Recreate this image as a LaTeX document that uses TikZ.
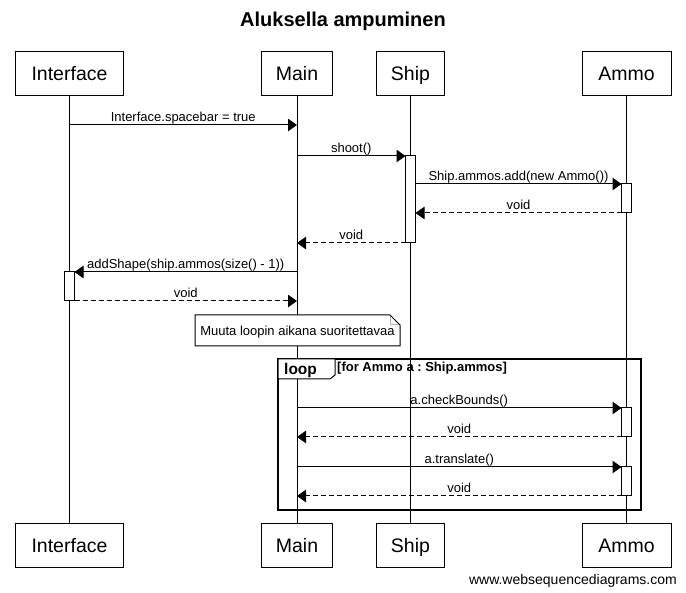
\documentclass[tikz,border=0pt]{standalone}
\usepackage{fontspec}
\setmainfont{Liberation Sans}
\usetikzlibrary{arrows.meta}
\newcommand\fsz[1]{\fontsize{#1pt}{#1pt}\selectfont}
\frenchspacing
\begin{document}
\begin{tikzpicture}[x=1pt,y=-1pt,
  part/.style={draw, line width=1pt, fill=white, minimum height=44pt, inner sep=0pt, outer sep=0pt, font=\fsz{19.5}, text height=14pt, text depth=0pt},
  life/.style={line width=1pt},
  act/.style={draw, line width=1pt, fill=white, minimum width=10pt, inner sep=0pt, outer sep=0pt},
  call/.style={line width=1pt, -{Triangle[length=9pt,width=12.5pt]}},
  ret/.style={call, dash pattern=on 5pt off 3pt},
  lbl/.style={font=\fsz{13}, inner sep=0pt, anchor=base, yshift=3.5pt},
]
\path[fill=white] (0,0) rectangle (686,593);
\useasboundingbox (0,0) rectangle (686,593);

% title
\node[font=\bfseries\fsz{20}, anchor=base, inner sep=0pt] (ttl) at (343,27) {Aluksella ampuminen};

% participants
\node[part, minimum width=108pt] (iT) at (69.5,74) {Interface};
\node[part, minimum width=71pt]  (mT) at (297,74) {Main};
\node[part, minimum width=68pt]  (sT) at (410.5,74) {Ship};
\node[part, minimum width=89pt]  (aT) at (626.5,74) {Ammo};
\node[part, minimum width=108pt] (iB) at (69.5,545.5) {Interface};
\node[part, minimum width=71pt]  (mB) at (297,545.5) {Main};
\node[part, minimum width=68pt]  (sB) at (410.5,545.5) {Ship};
\node[part, minimum width=89pt]  (aB) at (626.5,545.5) {Ammo};

% lifelines
\draw[life] (iT) -- (iB);
\draw[life] (mT) -- (mB);
\draw[life] (sT) -- (sB);
\draw[life] (aT) -- (aB);

% note
\node[fill=white, minimum width=205pt, minimum height=31pt, inner sep=0pt, outer sep=0pt, font=\fsz{13}, text height=9.5pt, text depth=0pt] (nt) at (297.5,330.5) {Muuta loopin aikana suoritettavaa};
\draw[line width=1pt, gray!60] ([xshift=-10pt]nt.north east) -- ([xshift=-10pt,yshift=-10pt]nt.north east) -- ([yshift=-10pt]nt.north east);
\draw[line width=1pt] (nt.north west) -- ([xshift=-10pt]nt.north east) -- ([yshift=-10pt]nt.north east) -- (nt.south east) -- (nt.south west) -- cycle;

% activations
\node[act, minimum height=87pt] (sA)  at (410.5,199.5) {};
\node[act, minimum height=29pt] (aA1) at (626.5,198.5) {};
\node[act, minimum height=29pt] (iA)  at (69.5,286.5) {};
\node[act, minimum height=29pt] (aA2) at (626.5,422.5) {};
\node[act, minimum height=29pt] (aA3) at (626.5,481.5) {};

% loop frame
\node[draw, line width=2pt, minimum width=363pt, minimum height=151pt, inner sep=0pt, outer sep=0pt] (lp) at (459.5,434.5) {};
\draw[line width=1pt, fill=white] (lp.north west) -- ++(57,0) -- ++(0,16) -- ++(-5,4) -- ++(-52,0) -- cycle;
\node[font=\bfseries\fsz{15.5}, inner sep=0pt, anchor=base west] (lpl) at (284,374.5) {loop};
\node[font=\bfseries\fsz{13}, inner sep=0pt, anchor=base west] (lpg) at (337,371.5) {[for Ammo a : Ship.ammos]};

% messages
\coordinate (y1) at (0,125);
\draw[call] (iT |- y1) -- (mT |- y1) node[lbl, midway] {Interface.spacebar = true};
\draw[call] (mT |- sA.north) -- (sA.north west) node[lbl, midway] {shoot()};
\draw[call] (sA.east |- aA1.north) -- (aA1.north west) node[lbl, midway] {Ship.ammos.add(new Ammo())};
\draw[ret] (aA1.south west) -- (sA.east |- aA1.south) node[lbl, midway] {void};
\draw[ret] (sA.south west) -- (mT |- sA.south) node[lbl, midway] {void};
\draw[call] (mT |- iA.north) -- (iA.north east) node[lbl, midway] {addShape(ship.ammos(size() - 1))};
\draw[ret] (iA.south east) -- (mT |- iA.south) node[lbl, midway] {void};
\draw[call] (mT |- aA2.north) -- (aA2.north west) node[lbl, midway] {a.checkBounds()};
\draw[ret] (aA2.south west) -- (mT |- aA2.south) node[lbl, midway] {void};
\draw[call] (mT |- aA3.north) -- (aA3.north west) node[lbl, midway] {a.translate()};
\draw[ret] (aA3.south west) -- (mT |- aA3.south) node[lbl, midway] {void};

% footer
\node[font=\fsz{14}, anchor=base east, inner sep=0pt] (ft) at (677,584) {www.websequencediagrams.com};
\end{tikzpicture}
\end{document}
